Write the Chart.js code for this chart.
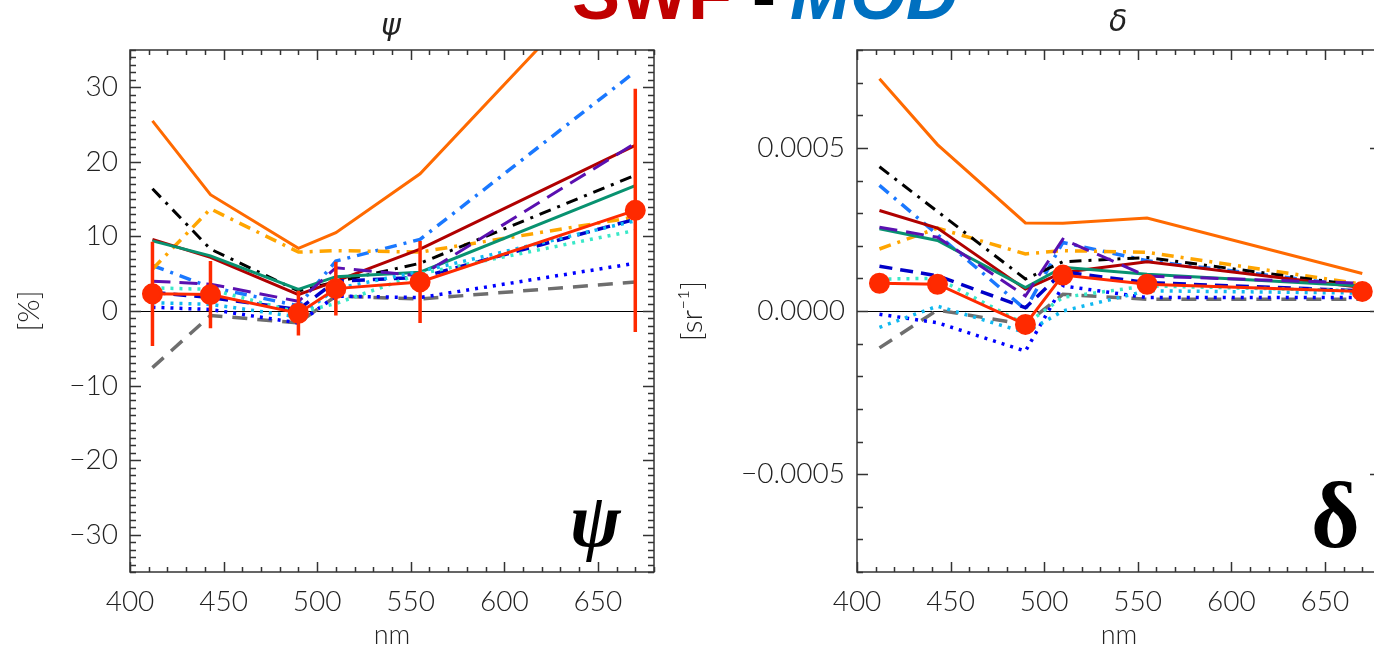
<!DOCTYPE html>
<html>
<head>
<meta charset="utf-8">
<script src="https://cdn.jsdelivr.net/npm/chart.js@4.4.1/dist/chart.umd.min.js"></script>
<style>
  html, body { margin: 0; padding: 0; background: #fff; width: 1374px; height: 651px; overflow: hidden; }
  #wrap { position: relative; width: 1374px; height: 651px; overflow: hidden; }
  canvas { position: absolute; top: 0; }
  .txt { position: absolute; white-space: nowrap; line-height: 1; }
  .head { font-family: "Liberation Sans", Arial, sans-serif; font-weight: bold; font-size: 72px; top: -42px; }
  .ptitle { font-family: "DejaVu Sans", sans-serif; font-style: italic; font-weight: 200; font-size: 30px; color: #222; top: 10px; }
  .big { font-family: "Liberation Serif", "DejaVu Serif", serif; font-weight: bold; color: #000; }
</style>
</head>
<body>
<div id="wrap">
  <canvas id="psiChart" width="680" height="651" style="left:0"></canvas>
  <canvas id="deltaChart" width="740" height="651" style="left:670px"></canvas>

  <div class="txt head" style="left:572px; color:#c00000">SWF</div>
  <div class="txt head" style="left:752px; color:#000">-</div>
  <div class="txt head" style="left:790px; color:#0070c0; font-style:italic">MOD</div>

  <div class="txt ptitle" style="left:381px">ψ</div>
  <div class="txt ptitle" style="left:1109px; top:6px">δ</div>

  <div class="txt big" style="left:570px; top:482px; font-size:76px; font-style:italic">ψ</div>
  <div class="txt big" style="left:1311px; top:468px; font-size:94px">δ</div>
</div>

<script>
// wavelengths (nm)
const bands = [412, 443, 490, 510, 555, 670];
const xTicks = [400, 450, 500, 550, 600, 650];
const psiTicks = [-30, -20, -10, 0, 10, 20, 30];
const deltaTicks = [-0.0005, 0, 0.0005];

// psi [%]
const psiOrange = [25.5, 15.6, 8.4, 10.5, 18.4, 49.0];
const psiBlueDashDot = [6.1, 3.2, 0.7, 6.7, 9.6, 32.1];
const psiDarkRed = [9.6, 7.2, 2.2, 4.0, 8.3, 22.2];
const psiGreen = [9.4, 7.4, 2.9, 4.6, 5.2, 16.8];
const psiBlack = [16.4, 8.3, 2.7, 3.9, 6.4, 18.2];
const psiGold = [5.6, 13.7, 7.9, 8.1, 7.9, 12.6];
const psiPurple = [4.0, 3.6, 1.3, 5.8, 4.7, 22.5];
const psiNavyDash = [2.5, 1.8, 0.2, 4.0, 4.5, 12.3];
const psiSkyDot = [1.1, 0.9, -0.8, 3.0, 5.3, 12.1];
const psiTurqDot = [3.1, 2.9, -0.2, 1.0, 5.0, 10.8];
const psiBlueDot = [0.5, 0.2, -1.6, 2.0, 1.8, 6.4];
const psiGray = [-7.6, -0.6, -1.6, 2.0, 1.6, 3.9];
const psiMean = [2.3, 2.2, -0.3, 3.0, 3.9, 13.5];
const psiErr = [7.0, 4.5, 3.0, 3.6, 5.5, 16.3];

// delta [sr^-1]
const dOrange = [7.12e-4, 5.1e-4, 2.70e-4, 2.69e-4, 2.85e-4, 1.15e-4];
const dBlueDashDot = [3.85e-4, 2.34e-4, 0.05e-4, 2.1e-4, 1.54e-4, 0.75e-4];
const dDarkRed = [3.08e-4, 2.54e-4, 0.67e-4, 1.18e-4, 1.51e-4, 0.72e-4];
const dGreen = [2.52e-4, 2.16e-4, 0.72e-4, 1.34e-4, 1.13e-4, 0.77e-4];
const dBlack = [4.42e-4, 3.05e-4, 0.98e-4, 1.51e-4, 1.64e-4, 0.77e-4];
const dGold = [1.90e-4, 2.54e-4, 1.75e-4, 1.85e-4, 1.80e-4, 0.82e-4];
const dPurple = [2.57e-4, 2.26e-4, 0.46e-4, 2.2e-4, 1.07e-4, 0.85e-4];
const dNavyDash = [1.37e-4, 1.08e-4, 0.10e-4, 1.2e-4, 0.87e-4, 0.62e-4];
const dSkyDot = [-0.5e-4, 0.15e-4, -0.66e-4, 0.0, 0.62e-4, 0.55e-4];
const dTurqDot = [0.98e-4, 1.0e-4, -0.41e-4, 0.42e-4, 0.77e-4, 0.62e-4];
const dBlueDot = [-0.1e-4, -0.36e-4, -1.23e-4, 0.77e-4, 0.41e-4, 0.41e-4];
const dGray = [-1.13e-4, 0.03e-4, -0.41e-4, 0.51e-4, 0.36e-4, 0.36e-4];
const dMean = [0.85e-4, 0.82e-4, -0.41e-4, 1.10e-4, 0.82e-4, 0.60e-4];

const RED = "#ff2a00";
const tickFont = { family: "Lato, 'DejaVu Sans', sans-serif", size: 28, weight: 300 };

const pts = vals => vals.map((v, i) => ({ x: bands[i], y: v }));

function line(data, color, dash, width) {
  return {
    data: pts(data),
    borderColor: color,
    borderWidth: width || 3,
    borderDash: dash || [],
    borderCapStyle: "butt",
    pointRadius: 0,
    tension: 0,
    fill: false
  };
}

// one vertical segment per band, broken by null
function errorBars(mean, err) {
  const out = [];
  mean.forEach((m, i) => {
    out.push({ x: bands[i], y: m - err[i] });
    out.push({ x: bands[i], y: m + err[i] });
    out.push({ x: bands[i], y: null });
  });
  return out;
}

const DASHDOT = [12, 7, 3, 7];
const LONGDASH = [18, 9];
const DASH = [13, 8];
const DOT = [3, 6];

function seriesSet(s) {
  const sets = [
    { data: pts(s.mean), borderColor: RED, backgroundColor: RED, borderWidth: 3, pointRadius: 9, pointHoverRadius: 9, tension: 0 }
  ];
  if (s.err) {
    sets.push({ data: errorBars(s.mean, s.err), borderColor: RED, borderWidth: 3.5, pointRadius: 0, spanGaps: false });
  }
  sets.push(
    line(s.turq, "#3ae8c8", DOT, 3.5),
    line(s.sky, "#10b8f0", DOT, 3.5),
    line(s.blueDot, "#0000ff", DOT, 3.5),
    line(s.gray, "#6e6e6e", [15, 10], 3.5),
    line(s.navy, "#0000c8", DASH, 3.5),
    line(s.purple, "#5a10b0", LONGDASH, 3),
    line(s.green, "#089270", null, 3),
    line(s.darkRed, "#b00000", null, 3),
    line(s.black, "#000000", DASHDOT, 3),
    line(s.gold, "#ffa500", DASHDOT, 3.5),
    line(s.blueDD, "#1a78ff", DASHDOT, 3.5),
    line(s.orange, "#ff6a00", null, 3)
  );
  return sets;
}

// frame with inward major/minor ticks on every side
const frameTicks = {
  id: "frameTicks",
  afterDraw(chart, args, opts) {
    const { ctx, chartArea: a, scales: { x, y } } = chart;
    const isMajor = (v, step) => Math.abs(v / step - Math.round(v / step)) < 1e-6;
    ctx.save();
    ctx.strokeStyle = "#333";
    ctx.lineWidth = 1.5;
    ctx.strokeRect(a.left, a.top, a.right - a.left, a.bottom - a.top);
    ctx.beginPath();
    const nx = Math.round((x.max - x.min) / opts.xMinor);
    for (let i = 0; i <= nx; i++) {
      const v = x.min + i * opts.xMinor;
      const p = Math.round(x.getPixelForValue(v)) + 0.5;
      const len = isMajor(v, opts.xMajor) ? 10 : 5;
      ctx.moveTo(p, a.bottom); ctx.lineTo(p, a.bottom - len);
      ctx.moveTo(p, a.top); ctx.lineTo(p, a.top + len);
    }
    const y0 = Math.ceil(y.min / opts.yMinor - 1e-6);
    const y1 = Math.floor(y.max / opts.yMinor + 1e-6);
    for (let k = y0; k <= y1; k++) {
      const v = k * opts.yMinor;
      const p = Math.round(y.getPixelForValue(v)) + 0.5;
      const len = isMajor(v, opts.yMajor) ? 11 : 6;
      ctx.moveTo(a.left, p); ctx.lineTo(a.left + len, p);
      ctx.moveTo(a.right, p); ctx.lineTo(a.right - len, p);
    }
    ctx.stroke();
    ctx.restore();
  }
};

const minus = s => s.replace("-", "\u2212");

function makeChart(id, sets, o) {
  return new Chart(document.getElementById(id), {
    type: "line",
    data: { datasets: sets },
    plugins: [frameTicks],
    options: {
      responsive: false,
      animation: false,
      events: [],
      layout: { padding: { top: 50, right: o.padRight, left: 0, bottom: 0 } },
      plugins: {
        legend: { display: false },
        tooltip: { enabled: false },
        frameTicks: { xMinor: 10, xMajor: 50, yMinor: o.yMinor, yMajor: o.yMajor }
      },
      scales: {
        x: {
          type: "linear",
          min: 400, max: 680,
          afterBuildTicks: s => { s.ticks = xTicks.map(v => ({ value: v })); },
          afterFit: s => { s.height = 79; },
          grid: { display: false, drawTicks: false },
          border: { display: false },
          ticks: { font: tickFont, color: "#222", padding: 13, maxRotation: 0 },
          title: { display: true, text: "nm", font: { family: tickFont.family, size: 27, weight: 300 }, color: "#222", padding: 0 }
        },
        y: {
          min: o.min, max: o.max,
          afterBuildTicks: s => { s.ticks = o.ticks.map(v => ({ value: v })); },
          afterFit: s => { s.width = o.yWidth; },
          grid: {
            drawTicks: false,
            color: c => (c.tick && c.tick.value === 0 ? "#000" : "rgba(0,0,0,0)"),
            lineWidth: 1
          },
          border: { display: false },
          ticks: { font: tickFont, color: "#222", padding: 12, callback: o.fmt },
          title: { display: true, text: o.yTitle, font: { family: tickFont.family, size: 30, weight: 300 }, color: "#222", padding: { top: o.titlePad, bottom: 0 } }
        }
      }
    }
  });
}

makeChart("psiChart", seriesSet({
  mean: psiMean, err: psiErr, turq: psiTurqDot, sky: psiSkyDot, blueDot: psiBlueDot, gray: psiGray,
  navy: psiNavyDash, purple: psiPurple, green: psiGreen, darkRed: psiDarkRed, black: psiBlack,
  gold: psiGold, blueDD: psiBlueDashDot, orange: psiOrange
}), {
  min: -35, max: 35, ticks: psiTicks, yMinor: 1, yMajor: 10, yWidth: 130, padRight: 26,
  yTitle: "[%]", titlePad: 11,
  fmt: v => minus(String(v))
});

makeChart("deltaChart", seriesSet({
  mean: dMean, turq: dTurqDot, sky: dSkyDot, blueDot: dBlueDot, gray: dGray,
  navy: dNavyDash, purple: dPurple, green: dGreen, darkRed: dDarkRed, black: dBlack,
  gold: dGold, blueDD: dBlueDashDot, orange: dOrange
}), {
  min: -0.0008, max: 0.0008, ticks: deltaTicks, yMinor: 0.0001, yMajor: 0.0005, yWidth: 187, padRight: 29,
  yTitle: "[sr\u207B\u00B9]", titlePad: 4,
  fmt: v => minus(Number(v).toFixed(4))
});
</script>
</body>
</html>
